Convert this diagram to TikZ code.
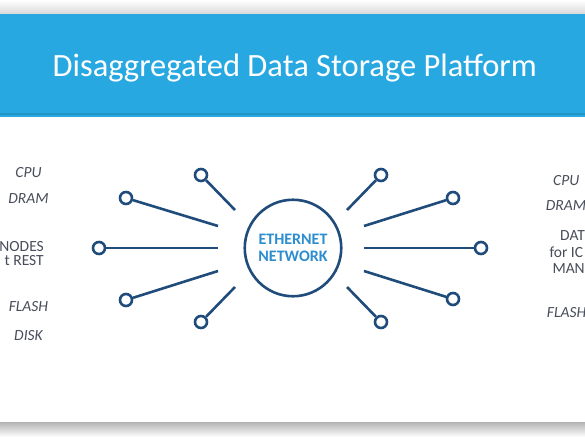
\documentclass[tikz,border=0pt]{standalone}
\usepackage{fontspec}
\setmainfont{Carlito}
\definecolor{bandblue}{RGB}{40,168,225}
\definecolor{netline}{RGB}{31,76,122}
\definecolor{ethblue}{RGB}{44,142,208}
\definecolor{labelgrey}{RGB}{72,77,90}

\begin{document}
\begin{tikzpicture}[
    x=1pt, y=-1pt,
    port/.style={circle, draw=netline, line width=2.6pt, fill=white, minimum size=12pt, inner sep=0pt},
    link/.style={draw=netline, line width=2.6pt},
    hub/.style={circle, draw=netline, line width=2.6pt, minimum size=96.5pt, inner sep=0pt, align=center, font=\bfseries\fontsize{16}{16.7}\selectfont, text=ethblue},
    tag/.style={inner sep=0pt, text=labelgrey, font=\fontsize{15.5}{15}\selectfont\itshape},
    plain/.style={inner sep=0pt, text=labelgrey, font=\fontsize{15.5}{15}\selectfont},
]
\useasboundingbox (0,0) rectangle (585,437);

% slide background
\fill[white] (0,0) rectangle (585,437);
\shade[top color=white, bottom color=gray!30] (0,0) rectangle (585,14);
\fill[bandblue] (0,14) rectangle (585,117);
\fill[bandblue!88!black] (0,112.5) rectangle (585,114.5);
\shade[top color=gray!60, bottom color=white] (0,422) rectangle (585,437);

\node[anchor=base, text=white, font=\fontsize{32.5}{36}\selectfont] (title) at (294.7,76) {Disaggregated Data Storage Platform};

\node[hub] (net) at (293,248) {ETHERNET\\NETWORK};

% left side
\node[port] (lport1) at (201,175) {};
\node[port] (lport2) at (126,198) {};
\node[port] (lport3) at (99,248) {};
\node[port] (lport4) at (126,300) {};
\node[port] (lport5) at (201,322) {};
\coordinate (lend1) at (235,210);
\coordinate (lend2) at (218,226);
\coordinate (lend3) at (218,248);
\coordinate (lend4) at (218,271);
\coordinate (lend5) at (235,287);

% right side
\node[port] (rport1) at (381,175) {};
\node[port] (rport2) at (453,198) {};
\node[port] (rport3) at (481,248) {};
\node[port] (rport4) at (453,299) {};
\node[port] (rport5) at (381,322) {};
\coordinate (rend1) at (347,210);
\coordinate (rend2) at (364,226);
\coordinate (rend3) at (364,248);
\coordinate (rend4) at (364,271);
\coordinate (rend5) at (347,287);

\draw[link] (lport1) -- (lend1);
\draw[link] (lport2) -- (lend2);
\draw[link] (lport3) -- (lend3);
\draw[link] (lport4) -- (lend4);
\draw[link] (lport5) -- (lend5);
\draw[link] (rport1) -- (rend1);
\draw[link] (rport2) -- (rend2);
\draw[link] (rport3) -- (rend3);
\draw[link] (rport4) -- (rend4);
\draw[link] (rport5) -- (rend5);

% labels
\node[tag, anchor=base] (lcpu) at (28.5,177.8) {CPU};
\node[tag, anchor=base] (ldram) at (28.5,203) {DRAM};
\node[plain, anchor=base east] (lnodes) at (44,251) {NODES};
\node[plain, anchor=base east] (lrest) at (44,265.5) {t REST};
\node[tag, anchor=base] (lflash) at (28.5,311.7) {FLASH};
\node[tag, anchor=base] (ldisk) at (28.5,340) {DISK};

\node[tag, anchor=base west] (rcpu) at (553,185) {CPU};
\node[tag, anchor=base west] (rdram) at (545.7,210) {DRAM};
\node[plain, anchor=base west] (rdat) at (560,240.5) {DAT};
\node[plain, anchor=base west] (rfor) at (549.3,257) {for IC};
\node[plain, anchor=base west] (rman) at (552.3,273.5) {MAN};
\node[tag, anchor=base west] (rflash) at (546.7,317) {FLASH};

\end{tikzpicture}
\end{document}
